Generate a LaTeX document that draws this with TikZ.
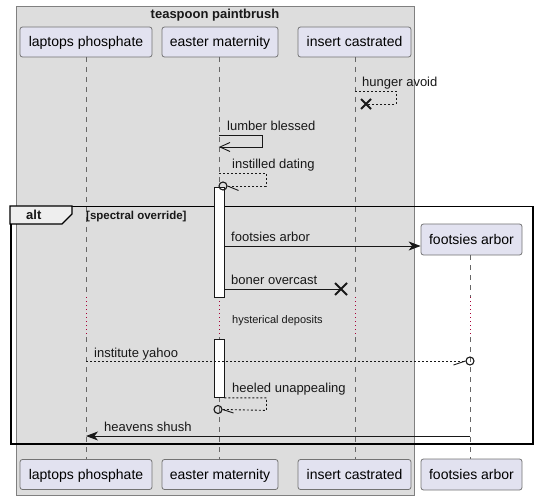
\documentclass[tikz,border=0pt]{standalone}
\usepackage{fontspec}
\setmainfont{Liberation Sans}
\usetikzlibrary{arrows.meta}
\definecolor{grpbg}{HTML}{DDDDDD}
\definecolor{partbg}{HTML}{E2E2F0}
\definecolor{delayc}{HTML}{A80036}
\definecolor{lifec}{HTML}{666666}
\definecolor{inkc}{HTML}{181818}
\definecolor{tabc}{HTML}{EEEEEE}
\tikzset{
 part/.style={draw=black!55, fill=partbg, rounded corners=2.5pt, line width=0.8pt, minimum height=30pt, inner sep=0pt, text height=10pt, text depth=0pt, font=\fontsize{14}{16}\selectfont},
 lifeline/.style={draw=lifec, line width=0.7pt, dash pattern=on 5pt off 5pt},
 delayline/.style={draw=delayc, line width=0.8pt, dash pattern=on 1pt off 3pt},
 msg/.style={draw=inkc, line width=0.9pt},
 rmsg/.style={msg, dash pattern=on 2pt off 2pt},
 lbl/.style={font=\fontsize{13}{15}\selectfont, anchor=base west, inner sep=0pt, text=inkc},
 actbar/.style={draw=inkc, fill=white, line width=0.9pt, inner sep=0pt, minimum width=10pt, anchor=north},
 killx/.style={line width=2pt, draw=inkc},
 circ/.style={circle, draw=inkc, fill=none, line width=1.1pt, minimum size=8pt, inner sep=0pt},
 filled/.style={-{Stealth[length=12pt,width=9pt,inset=3.5pt]}},
}
\begin{document}
\begin{tikzpicture}[x=1pt,y=-1pt]
\useasboundingbox (0,0) rectangle (536,500);
% group box
\node[draw=black!50, fill=grpbg, line width=0.8pt, minimum width=398pt, minimum height=489pt, inner sep=0pt, anchor=north west] (grp) at (16,6) {};
\node[font=\bfseries\fontsize{13}{15}\selectfont, anchor=base, inner sep=0pt, text=inkc] (grptitle) at (215,18.5) {teaspoon paintbrush};
% participants (top)
\node[part, minimum width=132pt] (lp) at (86,42) {laptops phosphate};
\node[part, minimum width=116pt] (em) at (220,42) {easter maternity};
\node[part, minimum width=113pt] (ic) at (354.5,42) {insert castrated};
% participants (bottom)
\node[part, minimum width=132pt] (lpb) at (86,474.5) {laptops phosphate};
\node[part, minimum width=116pt] (emb) at (220,474.5) {easter maternity};
\node[part, minimum width=113pt] (icb) at (354.5,474.5) {insert castrated};
\node[part, minimum width=101pt, minimum height=31pt] (fab) at (471.5,474.5) {footsies arbor};
\node[part, minimum width=101pt, minimum height=31pt] (fa) at (471.5,239.5) {footsies arbor};
% lifeline x positions and delay levels
\coordinate (xlp) at (86,0);
\coordinate (xem) at (219,0);
\coordinate (xic) at (355,0);
\coordinate (xfa) at (470,0);
\coordinate (d1) at (0,297);
\coordinate (d2) at (0,337);
\coordinate (ytop) at (0,57);
\coordinate (ybot) at (0,459);
\coordinate (yfa) at (0,255);
% lifelines
\foreach \p in {xlp,xem,xic}{
  \draw[lifeline] (\p |- ytop) -- (\p |- d1);
  \draw[delayline] (\p |- d1) -- (\p |- d2);
  \draw[lifeline] (\p |- d2) -- (\p |- ybot);
}
\draw[lifeline] (xfa |- yfa) -- (xfa |- d1);
\draw[delayline] (xfa |- d1) -- (xfa |- d2);
\draw[lifeline] (xfa |- d2) -- (xfa |- ybot);
% alt frame
\node[draw=black, line width=1.5pt, minimum width=522pt, minimum height=237pt, inner sep=0pt, anchor=north west] (altf) at (10,206) {};
\draw[draw=black, fill=tabc, line width=1.2pt] (altf.north west) -- ++(62,0) -- ++(0,8) -- ++(-10,10) -- ++(-52,0) -- cycle;
\node[font=\bfseries\fontsize{13}{15}\selectfont, anchor=base west, inner sep=0pt, text=inkc] (alttxt) at (26,220) {alt};
\node[font=\bfseries\fontsize{11.5}{13}\selectfont, anchor=base west, inner sep=0pt, text=inkc] (altcond) at (86,219) {[spectral override]};
% activation bars
\node[actbar, minimum height=110pt] (act1) at (219,187) {};
\node[actbar, minimum height=58pt] (act2) at (219,339) {};
% hunger avoid
\coordinate (ha1) at (xic |- 0,91);
\coordinate (hax) at (366,104);
\draw[rmsg] (ha1) -- ++(41,0) -- ++(0,13) -- (hax);
\draw[killx] (hax) ++(-5,-5) -- ++(10,10) (hax) ++(-5,5) -- ++(10,-10);
\node[lbl] (lha) at (362,87) {hunger avoid};
% lumber blessed
\coordinate (lb1) at (xem |- 0,135);
\coordinate (lb2) at (220,147);
\draw[msg] (lb1) -- ++(43,0) -- ++(0,12) -- (lb2);
\draw[msg] (230,142.5) -- (lb2) -- (230,151.5);
\node[lbl] (llb) at (227,131) {lumber blessed};
% instilled dating
\coordinate (id1) at (xem |- 0,173);
\node[circ] (idc) at (223,186) {};
\draw[rmsg] (id1) -- ++(47,0) -- ++(0,13) -- (idc.east);
\draw[msg] (idc.east) -- ++(11,4.5);
\node[lbl] (lid) at (232,168.5) {instilled dating};
% footsies arbor (create)
\coordinate (fay) at (0,246);
\draw[msg, filled] (act1.east |- fay) -- (fa.west |- fay);
\node[lbl] (lfa) at (231,242) {footsies arbor};
% boner overcast
\coordinate (box) at (341,289);
\draw[msg] (act1.east |- box) -- (box);
\draw[killx] (box) ++(-6,-6) -- ++(12,12) (box) ++(-6,6) -- ++(12,-12);
\node[lbl] (lbo) at (231,284) {boner overcast};
% delay text
\node[font=\fontsize{11}{13}\selectfont, anchor=base west, inner sep=0pt, text=inkc] (dly) at (232,323) {hysterical deposits};
% institute yahoo
\node[circ] (iyc) at (470,361) {};
\draw[rmsg] (xlp |- iyc) -- (iyc.west);
\draw[msg] (iyc.west) -- ++(-12,4);
\node[lbl] (liy) at (94,357) {institute yahoo};
% heeled unappealing
\node[circ] (huc) at (218,409.5) {};
\draw[rmsg] (act2.south east) -- ++(42,0) -- ++(0,12.5) -- (huc.east);
\draw[msg] (huc.east) -- ++(11,3.5);
\node[lbl] (lhu) at (232,392) {heeled unappealing};
% heavens shush
\coordinate (hsy) at (0,436);
\draw[msg, filled] (xfa |- hsy) -- (xlp |- hsy);
\node[lbl] (lhs) at (104,431) {heavens shush};
\end{tikzpicture}
\end{document}
